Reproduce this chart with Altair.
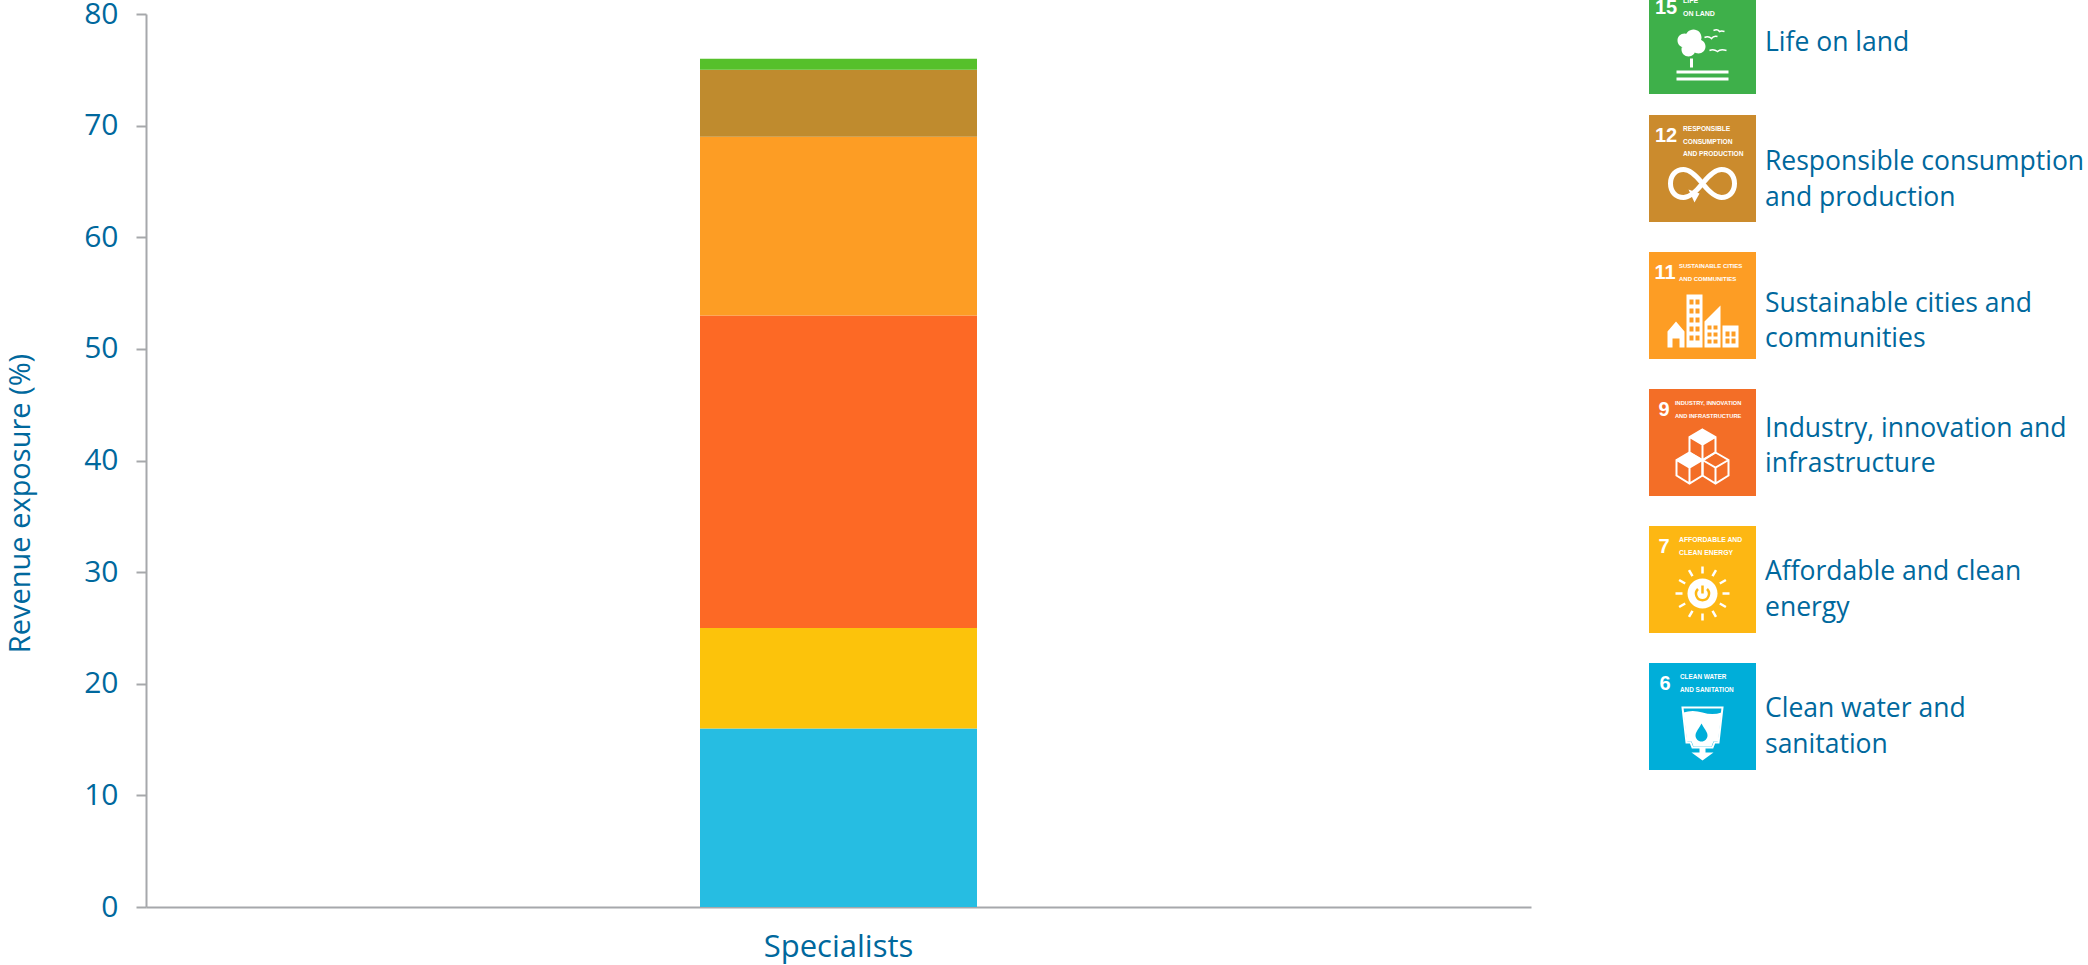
import math
import altair as alt
import pandas as pd

# Stacked revenue exposure by Sustainable Development Goal
goals = ["Clean water and sanitation", "Affordable and clean energy",
         "Industry, innovation and infrastructure", "Sustainable cities and communities",
         "Responsible consumption and production", "Life on land"]
exposure = [16, 9, 28, 16, 6, 1]
bar_colours = ["#26BDE2", "#FCC30B", "#FD6925", "#FD9D24", "#BF8B2E", "#56C02B"]
group = "Specialists"

# Key entries, top to bottom
key_numbers = ["15", "12", "11", "9", "7", "6"]
key_captions = [["LIFE", "ON LAND"],
                ["RESPONSIBLE", "CONSUMPTION", "AND PRODUCTION"],
                ["SUSTAINABLE CITIES", "AND COMMUNITIES"],
                ["INDUSTRY, INNOVATION", "AND INFRASTRUCTURE"],
                ["AFFORDABLE AND", "CLEAN ENERGY"],
                ["CLEAN WATER", "AND SANITATION"]]
key_labels = [["Life on land"],
              ["Responsible consumption", "and production"],
              ["Sustainable cities and", "communities"],
              ["Industry, innovation and", "infrastructure"],
              ["Affordable and clean", "energy"],
              ["Clean water and", "sanitation"]]
tile_colours = ["#3EB04A", "#CB8B2D", "#FD9D24", "#F36E27", "#FDB713", "#00AED9"]

# Page layout, in pixels
LEFT, TOP = 146, 14
PLOT_W, PLOT_H = 1385, 893
TILE_X, TILE_SIZE = 1649, 107
tile_tops = [-13, 115, 252, 389, 526, 663]
caption_x = [34, 34, 30, 26, 30, 31]
caption_size = [7, 6.6, 6, 5.7, 6.8, 6.4]
number_x = [17, 17, 16, 15, 15, 16]
label_y = [[42.5], [161.5, 197.5], [303.5, 338.5], [428.5, 463.5], [571.5, 607.5], [708.5, 744.5]]
LABEL_X = 1765
TEXT = "#00689D"
AXIS = "#A6A8AB"
FONT = "Open Sans"
TILE_FONT = "Liberation Sans"
LABEL_SIZE = 26.5


def px(x):
    return alt.value(x - LEFT)


def py(y):
    return alt.value(y - TOP)


def rect(x, y, w, h):
    return f"M{x},{y}H{x+w}V{y+h}H{x}Z"


def hole(x, y, w, h):
    return f"M{x},{y}V{y+h}H{x+w}V{y}Z"


def circle(cx, cy, r):
    return f"M{cx-r},{cy}A{r},{r} 0 1 1 {cx+r},{cy}A{r},{r} 0 1 1 {cx-r},{cy}Z"


def cube(cx, top):
    hexagon = (f"M{cx},{top}L{cx+13},{top+7.5}V{top+23}L{cx},{top+31}L{cx-13},{top+23}V{top+7.5}Z")
    inner = f"M{cx-13},{top+7.5}L{cx},{top+15}L{cx+13},{top+7.5}M{cx},{top+15}V{top+31}"
    return hexagon + inner


def cube_face(cx, top):
    return f"M{cx},{top}L{cx+13},{top+7.5}L{cx},{top+15}L{cx-13},{top+7.5}Z"


def windows(x, y, cols, rows, w, h, gx, gy):
    return "".join(hole(x + c * gx, y + r * gy, w, h) for c in range(cols) for r in range(rows))


sun_rays = "".join(
    f"M{20*math.cos(a):.1f},{14+20*math.sin(a):.1f}L{27*math.cos(a):.1f},{14+27*math.sin(a):.1f}"
    for a in [i * math.pi / 6 for i in range(12)]
)

# Pictograms: (path, fill colour or None, stroke colour or None, stroke width),
# with coordinates measured from the centre of each tile.
W = "#FFFFFF"
icons = [
    [
        (circle(-18, 0, 7) + circle(-9, -3, 8) + circle(-4, 6, 7) + circle(-14, 9, 7), W, None, 0),
        (rect(-12.5, 18, 3, 9) + rect(-26, 30, 52, 3) + rect(-26, 37, 52, 3), W, None, 0),
        ("M11,-10Q15,-12 17,-9Q19,-10 22,-9M2,-3Q6,-5 9,-2Q11,-5 15,-4M7,10Q11,8 15,11Q18,8 24,10",
         None, W, 1.5),
    ],
    [
        ("M0,15C-8,25 -14,29 -19,29C-27,29 -32,23 -32,15C-32,7 -27,1 -19,1C-14,1 -8,5 0,15"
         "C8,25 14,29 19,29C27,29 32,23 32,15C32,7 27,1 19,1C14,1 8,5 0,15Z", None, W, 5),
        ("M-14,21L-3,25L-8,34Z", W, None, 0),
    ],
    [
        ("M-35,26L-26.5,16L-18,26V42H-23V33H-30V42H-35Z", W, None, 0),
        (rect(-16, -11, 16, 53) + windows(-13, -6, 2, 5, 4, 5, 6, 9), W, None, 0),
        ("M2,16L18,0V42H2Z" + windows(5, 20, 2, 3, 4, 4, 6, 7), W, None, 0),
        (rect(20, 20, 16, 22) + windows(23, 26, 2, 2, 4, 5, 6, 7), W, None, 0),
    ],
    [
        (cube(0, -13), None, W, 2),
        (cube(-13, 10), None, W, 2),
        (cube(13, 10), None, W, 2),
        (cube_face(0, -13) + cube_face(-13, 10), W, None, 0),
    ],
    [
        (circle(0, 14, 15), W, None, 0),
        (sun_rays, None, W, 2.5),
        ("M-4.5,9.5A6.5,6.5 0 1 0 4.5,9.5M0,6V14", None, "#FDB713", 2.5),
    ],
    [
        ("M-20,-9H20L16,26H12L10,31H-10L-12,26H-16Z", None, W, 2),
        ("M-19,-4Q-10,-7 0,-4Q10,-1 19,-4L15.5,25H11L9,30H-9L-11,25H-15.5Z", W, None, 0),
        ("M-1,7C-5,14 -7,16 -7,19A6,6 0 0 0 5,19C5,16 3,14 -1,7Z", "#00AED9", None, 0),
        ("M-3,31H3V36H11L0,44L-11,36H-3Z", W, None, 0),
    ],
]

bars = pd.DataFrame({
    "group": [group] * len(goals),
    "goal": goals,
    "exposure": exposure,
    "rank": range(len(goals)),
})

stack = alt.Chart(bars).mark_bar().encode(
    x=alt.X("group:N", title=None,
            scale=alt.Scale(paddingInner=0.8, paddingOuter=0.4),
            axis=alt.Axis(labelAngle=0, ticks=False, domainColor=AXIS, domainWidth=2,
                          labelColor=TEXT, labelFont=FONT, labelFontSize=31,
                          labelPadding=25)),
    y=alt.Y("exposure:Q", stack="zero", title="Revenue exposure (%)",
            scale=alt.Scale(domain=[0, 80], nice=False),
            axis=alt.Axis(values=list(range(0, 90, 10)), grid=False, tickSize=10, tickWidth=2,
                          tickColor=AXIS, domainColor=AXIS, domainWidth=2,
                          labelColor=TEXT, labelFont=FONT, labelFontSize=30, labelPadding=18,
                          titleColor=TEXT, titleFont=FONT, titleFontSize=29,
                          titleFontWeight="normal", titleX=-111, titleY=489)),
    color=alt.Color("goal:N", legend=None,
                    scale=alt.Scale(domain=goals, range=bar_colours)),
    order=alt.Order("rank:Q"),
)

layers = [stack]
for i, top in enumerate(tile_tops):
    cx = TILE_X + TILE_SIZE / 2
    cy = top + TILE_SIZE / 2
    layers.append(alt.Chart().mark_rect(color=tile_colours[i]).encode(
        x=px(TILE_X), x2=px(TILE_X + TILE_SIZE), y=py(top), y2=py(top + TILE_SIZE)))
    layers.append(alt.Chart().mark_text(
        font=TILE_FONT, fontWeight="bold", fontSize=20, color=W, baseline="middle",
        align="center", text=key_numbers[i]).encode(x=px(TILE_X + number_x[i]), y=py(top + 21)))
    for j, line in enumerate(key_captions[i]):
        layers.append(alt.Chart().mark_text(
            font=TILE_FONT, fontWeight="bold", fontSize=caption_size[i], color=W, baseline="middle",
            align="left", text=line).encode(x=px(TILE_X + caption_x[i]), y=py(top + 14 + 12.5 * j)))
    for path, fill, stroke, width in icons[i]:
        props = dict(shape=path, size=4, opacity=1)
        if fill:
            props.update(filled=True, fill=fill, strokeWidth=0)
        else:
            props.update(filled=False, stroke=stroke, strokeWidth=width)
        layers.append(alt.Chart().mark_point(**props).encode(x=px(cx), y=py(cy)))
    for line, y in zip(key_labels[i], label_y[i]):
        layers.append(alt.Chart().mark_text(
            font=FONT, fontSize=LABEL_SIZE, color=TEXT, baseline="middle", align="left",
            text=line).encode(x=px(LABEL_X), y=py(y)))

chart = alt.layer(*layers).properties(
    width=PLOT_W,
    height=PLOT_H,
    background="#FFFFFF",
    autosize=alt.AutoSizeParams(type="none"),
    padding={"left": LEFT, "top": TOP, "right": 2088 - LEFT - PLOT_W, "bottom": 965 - TOP - PLOT_H},
).configure_view(stroke=None)

chart.save("out.html", embed_options={"renderer": "svg", "actions": False})
